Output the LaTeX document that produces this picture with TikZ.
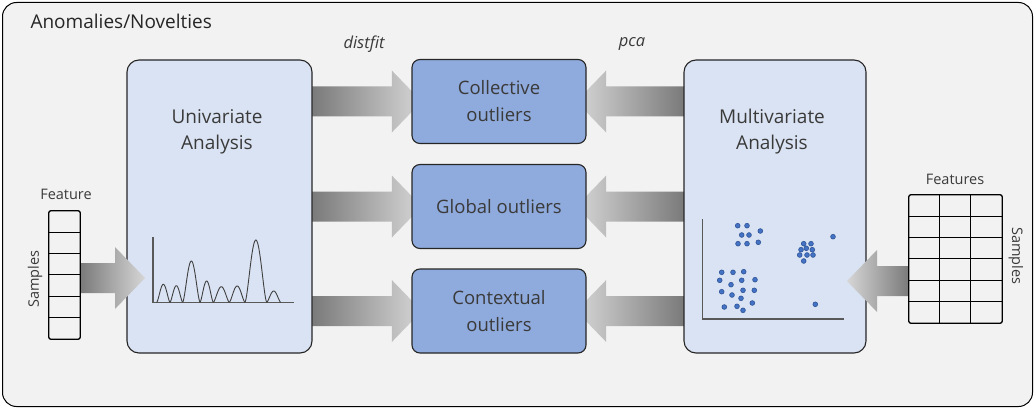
\documentclass[tikz,border=0pt]{standalone}
\usepackage{fontspec}
\setmainfont{Open Sans}
\usetikzlibrary{calc}
\definecolor{bgc}{HTML}{F2F2F2}
\definecolor{lbox}{HTML}{DAE3F3}
\definecolor{mbox}{HTML}{8FAADC}
\definecolor{edgec}{HTML}{262626}
\definecolor{txt}{HTML}{3A3A3A}
\definecolor{adk}{HTML}{7A7A7A}
\definecolor{alt}{HTML}{D6D6D6}
\definecolor{dotc}{HTML}{4472C4}
\definecolor{dotb}{HTML}{2F5597}
\newcommand\rarr[2]{\shade[left color=adk,right color=alt] ($(#1)+(0,-15)$) -- ($(#2)+(-30,-15)$) -- ($(#2)+(-30,-31)$) -- (#2) -- ($(#2)+(-30,31)$) -- ($(#2)+(-30,15)$) -- ($(#1)+(0,15)$) -- cycle;}
\newcommand\larr[2]{\shade[left color=alt,right color=adk] ($(#1)+(0,-15)$) -- ($(#2)+(30,-15)$) -- ($(#2)+(30,-31)$) -- (#2) -- ($(#2)+(30,31)$) -- ($(#2)+(30,15)$) -- ($(#1)+(0,15)$) -- cycle;}
\tikzset{
  anabox/.style={draw=edgec, line width=1.1pt, fill=lbox, rounded corners=12pt, minimum width=185pt, minimum height=293pt, inner sep=0pt},
  outbox/.style={draw=edgec, line width=1.1pt, fill=mbox, rounded corners=8pt, minimum width=174pt, minimum height=84pt, align=center, text=txt, font=\fontsize{18.5}{27}\selectfont},
  bigtxt/.style={align=center, text=txt, font=\fontsize{19}{26}\selectfont},
  smalltxt/.style={text=txt, font=\fontsize{14.5}{16}\selectfont},
  cell/.style={draw=black, line width=0.9pt},
  curve/.style={draw=black!75, line width=0.9pt},
  axis/.style={draw=black!65, line width=1.1pt},
  dot/.style={fill=dotc, draw=dotb, line width=0.6pt}
}
\begin{document}
\begin{tikzpicture}[x=1pt,y=-1pt]
\useasboundingbox (0,0) rectangle (1035,409);
\node[draw=black, line width=1pt, fill=bgc, rounded corners=14pt, minimum width=1030pt, minimum height=404pt, inner sep=0pt] (frame) at (517.5,204.5) {};
\node[anchor=west, text=black!85, font=\fontsize{19}{22}\selectfont] (title) at (27,21) {Anomalies/Novelties};

% boxes positions
\coordinate (unic) at (219.5,206.5);
\coordinate (mulc) at (775,206.5);
\coordinate (colc) at (499,101.5);
\coordinate (gloc) at (499,206.5);
\coordinate (conc) at (499,311);

% invisible helper nodes for anchors
\path (unic) node[minimum width=185pt, minimum height=293pt, inner sep=0pt] (uni0) {};
\path (mulc) node[minimum width=182pt, minimum height=293pt, inner sep=0pt] (mul0) {};
\path (colc) node[minimum width=174pt, minimum height=84pt, inner sep=0pt] (col0) {};
\path (gloc) node[minimum width=174pt, minimum height=84pt, inner sep=0pt] (glo0) {};
\path (conc) node[minimum width=174pt, minimum height=84pt, inner sep=0pt] (con0) {};

% arrows between boxes (drawn behind)
\coordinate (a1s) at (uni0.east |- col0.west); \coordinate (a1t) at ($(col0.west)+(10,0)$);
\coordinate (a2s) at (uni0.east |- glo0.west); \coordinate (a2t) at ($(glo0.west)+(10,0)$);
\coordinate (a3s) at (uni0.east |- con0.west); \coordinate (a3t) at ($(con0.west)+(10,0)$);
\rarr{a1s}{a1t}\rarr{a2s}{a2t}\rarr{a3s}{a3t}
\coordinate (b1s) at (mul0.west |- col0.east); \coordinate (b1t) at ($(col0.east)+(-10,0)$);
\coordinate (b2s) at (mul0.west |- glo0.east); \coordinate (b2t) at ($(glo0.east)+(-10,0)$);
\coordinate (b3s) at (mul0.west |- con0.east); \coordinate (b3t) at ($(con0.east)+(-10,0)$);
\larr{b1s}{b1t}\larr{b2s}{b2t}\larr{b3s}{b3t}

% main boxes
\node[anabox] (uni) at (unic) {};
\node[anabox, minimum width=182pt] (mul) at (mulc) {};
\node[outbox] (col) at (colc) {Collective\\outliers};
\node[outbox] (glo) at (gloc) {Global outliers};
\node[outbox] (con) at (conc) {Contextual\\outliers};
\node[bigtxt] (unit) at (217,132) {Univariate\\Analysis};
\node[bigtxt] (mult) at (772,132) {Multivariate\\Analysis};

\node[text=txt, font=\fontsize{16.5}{18}\itshape] (dfit) at (364,44) {distfit};
\node[text=txt, font=\fontsize{16.5}{18}\itshape] (pcat) at (632,44) {pca};

% univariate curve plot
\draw[axis] (153,237) -- (153,302.3) -- (294,302.3);
\foreach \a/\b/\h in {156.7/170/18, 170/182.7/16.6, 182.7/200/41.3, 200/213.3/21.3, 213.3/229.3/15.6, 229.3/245/16.3, 245/266.7/62.3, 266.7/280.7/11.3}
  \draw[curve] plot[domain=0:1, samples=30, smooth] ({\a+(\b-\a)*\x},{302.3-\h*sin(180*\x)*sqrt(abs(sin(180*\x)))});

% multivariate scatter
\draw[axis] (702.7,219) -- (702.7,319) -- (844,319);
\foreach \p in {(737.7,225.7),(747,225.7),(741.7,235),(749,235),(760.3,231),(738,243.7),(747,243.7),(758.3,242.3),
  (803.7,243.7),(811,243.7),(801,249.7),(806.3,248.3),(812.3,249.7),(799.7,255),(807,255),(813,255),(803.7,261),
  (833,236.7),
  (721.7,272.3),(733,272.3),(743.7,271.7),(719.7,280.3),(741.7,280.3),(755,279.7),(731,284.7),(721.7,291.7),(743,290.3),(754.3,290.3),(732,295),(741,298.3),(724.3,307),(737,306.3),(752.3,303),(743,310.3),
  (815.3,304.3)}
  \fill[dot] \p circle[radius=2.4pt];

% left table
\node[minimum width=31pt, minimum height=128pt, inner sep=0pt] (ltab) at (64.5,275) {};
\coordinate (inlt) at (145,278);
\coordinate (inls) at (ltab.east |- inlt);
\rarr{inls}{inlt}
\foreach \i in {1,...,5} \draw[cell] ($(ltab.north west)+(0,21.33*\i)$) -- ($(ltab.north east)+(0,21.33*\i)$);
\draw[cell, line width=1.3pt, rounded corners=2pt] (ltab.north west) rectangle (ltab.south east);
\node[smalltxt] (lfeat) at (66,194) {Feature};
\node[smalltxt, rotate=90] (lsamp) at (35,279) {Samples};

% right table
\node[minimum width=93pt, minimum height=128pt, inner sep=0pt] (rtab) at (955.5,259) {};
\coordinate (inrt) at (847,281);
\coordinate (inrs) at (rtab.west |- inrt);
\larr{inrs}{inrt}
\foreach \i in {1,...,5} \draw[cell] ($(rtab.north west)+(0,21.33*\i)$) -- ($(rtab.north east)+(0,21.33*\i)$);
\foreach \i in {1,2} \draw[cell] ($(rtab.north west)+(31*\i,0)$) -- ($(rtab.south west)+(31*\i,0)$);
\draw[cell, line width=1.3pt, rounded corners=2pt] (rtab.north west) rectangle (rtab.south east);
\node[smalltxt] (rfeat) at (955,179) {Features};
\node[smalltxt, rotate=-90] (rsamp) at (1016,256) {Samples};
\end{tikzpicture}
\end{document}
